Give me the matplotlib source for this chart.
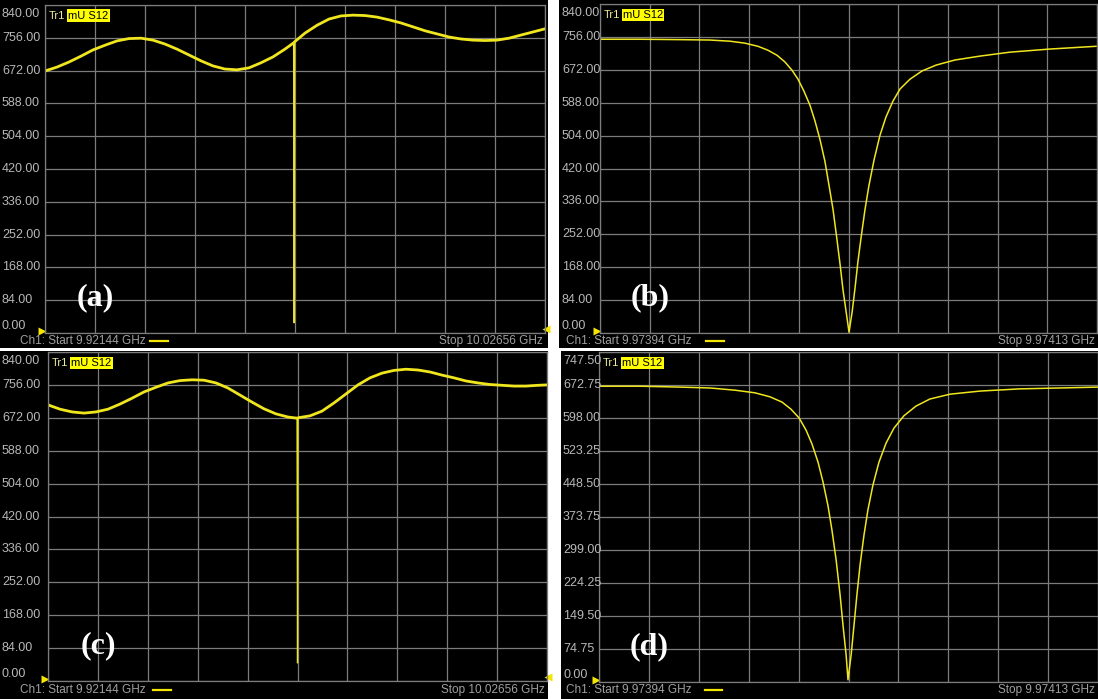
import matplotlib
matplotlib.use("Agg")
import matplotlib.pyplot as plt
from matplotlib.patches import Rectangle
import numpy as np

# trace data (frequency in MHz, |S12| in mU)
freq_a = [9921.44, 9923.96, 9926.49, 9929.01, 9931.53, 9934.05, 9936.57, 9939.10, 9941.62,
          9944.14, 9946.66, 9949.19, 9951.71, 9954.23, 9956.75, 9959.28, 9961.80, 9964.32,
          9966.84, 9969.36, 9971.89, 9973.70, 9973.82, 9973.94, 9976.10, 9978.62, 9981.15,
          9983.67, 9986.19, 9988.72, 9991.24, 9993.76, 9996.29, 9998.81, 10001.33, 10003.85,
          10006.38, 10008.90, 10011.42, 10013.95, 10016.47, 10018.99, 10021.51, 10024.04,
          10026.56]
mu_a = [671, 681, 694, 709, 725, 737, 748, 754, 755, 750, 740, 727, 712, 697, 684, 676, 674,
        679, 692, 707, 727, 743, 26, 746, 768, 788, 804, 812, 814, 813, 809, 802, 794, 784,
        774, 766, 758, 753, 750, 749, 750, 755, 763, 771, 779]

freq_b = [9973.9400, 9973.9553, 9973.9706, 9973.9821, 9973.9897, 9973.9954, 9974.0004,
          9974.0042, 9974.0077, 9974.0107, 9974.0134, 9974.0157, 9974.0180, 9974.0203,
          9974.0222, 9974.0241, 9974.0260, 9974.0275, 9974.0291, 9974.0306, 9974.0318,
          9974.0329, 9974.0341, 9974.0352, 9974.0364, 9974.0375, 9974.0386, 9974.0398,
          9974.0413, 9974.0428, 9974.0448, 9974.0470, 9974.0493, 9974.0520, 9974.0547,
          9974.0585, 9974.0631, 9974.0685, 9974.0757, 9974.0853, 9974.0967, 9974.1120,
          9974.1296]
mu_b = [750, 750, 749, 748, 745, 740, 732, 722, 709, 692, 671, 648, 617, 581, 541, 494, 438,
        379, 315, 238, 174, 110, 54, 2, 54, 115, 182, 243, 315, 376, 443, 504, 551, 592, 623,
        648, 669, 684, 697, 707, 717, 725, 732]

freq_c = [9921.44, 9923.97, 9926.50, 9929.02, 9931.55, 9934.08, 9936.61, 9939.14, 9941.66,
          9944.19, 9946.72, 9949.25, 9951.78, 9954.30, 9956.83, 9959.36, 9961.89, 9964.42,
          9966.94, 9969.47, 9972.00, 9973.90, 9974.00, 9974.10, 9976.63, 9979.16, 9981.69,
          9984.22, 9986.74, 9989.27, 9991.80, 9994.33, 9996.86, 9999.38, 10001.91, 10004.44,
          10006.97, 10009.50, 10012.02, 10014.55, 10017.08, 10019.61, 10022.14, 10024.66,
          10026.56]
mu_c = [705, 694, 687, 684, 687, 694, 707, 722, 738, 750, 761, 767, 769, 768, 761, 748, 730,
        712, 695, 682, 674, 671, 46, 672, 677, 689, 710, 733, 756, 774, 786, 793, 796, 794,
        789, 781, 774, 766, 761, 757, 755, 753, 753, 755, 756]

freq_d = [9973.9400, 9973.9556, 9973.9708, 9973.9823, 9973.9918, 9973.9994, 9974.0051,
          9974.0097, 9974.0131, 9974.0162, 9974.0188, 9974.0211, 9974.0234, 9974.0253,
          9974.0272, 9974.0287, 9974.0303, 9974.0318, 9974.0329, 9974.0341, 9974.0348,
          9974.0360, 9974.0371, 9974.0382, 9974.0394, 9974.0409, 9974.0424, 9974.0443,
          9974.0466, 9974.0493, 9974.0523, 9974.0561, 9974.0607, 9974.0660, 9974.0737,
          9974.0851, 9974.1003, 9974.1155, 9974.1300]
mu_d = [670, 670, 668, 666, 661, 655, 646, 634, 618, 598, 571, 539, 498, 453, 399, 344, 276,
        197, 129, 61, 5, 61, 129, 197, 265, 333, 390, 446, 498, 541, 575, 603, 625, 641, 652,
        659, 664, 666, 668]

panel_names = ["(a)", "(b)", "(c)", "(d)"]
start_ghz = ["9.92144", "9.97394", "9.92144", "9.97394"]
stop_ghz = ["10.02656", "9.97413", "10.02656", "9.97413"]
y_top = [840.0, 840.0, 840.0, 747.5]

W, H = 1098, 699
fig = plt.figure(figsize=(W / 100, H / 100), dpi=100, facecolor="white")


def fx(px):
    return px / W


def fy(py):
    return 1 - py / H


grid_col = "#7c7c7c"
label_col = "#b8b8b8"
trace_col = "#f0e61e"
sans = "Liberation Sans"

# panel box, plot box (pixels, top-left origin), text positions
panels = [
    dict(box=(0, 0, 548, 348), plot=(45, 5, 545, 333), lab_x=2, text_y=341, ch_x=20, dash=(150, 168), stop_x=543, lw=2.0, spike=True),
    dict(box=(559, 0, 1098, 348), plot=(600, 4, 1097, 333), lab_x=562, text_y=341, ch_x=566, dash=(706, 724), stop_x=1095, lw=1.1, spike=False),
    dict(box=(0, 351, 548, 699), plot=(48, 352, 547, 681), lab_x=2, text_y=690, ch_x=20, dash=(153, 171), stop_x=545, lw=2.0, spike=True),
    dict(box=(561, 351, 1098, 699), plot=(599, 352, 1098, 682), lab_x=563, text_y=690, ch_x=566, dash=(705, 722), stop_x=1095, lw=1.1, spike=False),
]
freqs = [freq_a, freq_b, freq_c, freq_d]
mus = [mu_a, mu_b, mu_c, mu_d]

for i, p in enumerate(panels):
    bx0, by0, bx1, by1 = p["box"]
    fig.add_artist(Rectangle((fx(bx0), fy(by1)), (bx1 - bx0) / W, (by1 - by0) / H,
                             transform=fig.transFigure, facecolor="black", edgecolor="none", zorder=0))

    x0, y0, x1, y1 = p["plot"]
    ax = fig.add_axes([fx(x0), fy(y1), (x1 - x0) / W, (y1 - y0) / H], facecolor="black")
    f_start = float(start_ghz[i]) * 1000
    f_stop = float(stop_ghz[i]) * 1000
    ax.set_xlim(f_start, f_stop)
    ax.set_ylim(0, y_top[i])
    ax.set_xticks(np.linspace(f_start, f_stop, 11))
    yt = np.linspace(0, y_top[i], 11)
    ax.set_yticks(yt)
    ax.tick_params(length=0, labelbottom=False, labelleft=False)
    ax.grid(True, color=grid_col, lw=0.9)
    for s in ax.spines.values():
        s.set_color(grid_col)
        s.set_linewidth(0.9)

    f = np.array(freqs[i])
    m = np.array(mus[i])
    if p["spike"]:
        # the narrow glitch is a one pixel line on the screen, the sweep itself is thicker
        k = int(np.argmin(m))
        ax.plot(np.delete(f, k), np.delete(m, k), color=trace_col, lw=p["lw"])
        ax.plot(f[k - 1:k + 2], m[k - 1:k + 2], color=trace_col, lw=0.9)
    else:
        ax.plot(f, m, color=trace_col, lw=p["lw"])

    # scale labels at the left edge of the screen
    for k, v in enumerate(yt):
        dy = 0
        va = "center"
        if k == len(yt) - 1:
            dy, va = -3, "top"
        elif k == 0:
            dy, va = 1, "bottom"
        ax.annotate("%.2f" % v, xy=(fx(p["lab_x"]), v), xycoords=("figure fraction", "data"),
                    xytext=(0, dy), textcoords="offset pixels", ha="left", va=va,
                    color=label_col, fontsize=9, family=sans)

    # reference markers
    ax.plot([-0.006], [0.005], marker=">", color="#f5e600", ms=6, mec="none",
            transform=ax.transAxes, clip_on=False)
    if p["spike"]:
        ax.plot([1.002], [0.012], marker="<", color="#f5e600", ms=6, mec="none",
                transform=ax.transAxes, clip_on=False)

    # trace header
    ax.text(0.008, 0.967, "Tr1", transform=ax.transAxes, color="#ecec9c",
            fontsize=8, family=sans, va="center", ha="left")
    ax.text(0.046, 0.967, "mU S12", transform=ax.transAxes, color="black",
            fontsize=8, family=sans, va="center", ha="left",
            bbox=dict(facecolor="#ffff00", edgecolor="none", pad=1.0))

    # channel footer
    fig.text(fx(p["ch_x"]), fy(p["text_y"]), "Ch1: Start %s GHz" % start_ghz[i],
             color="#a0a0a0", fontsize=8.5, family=sans, va="center", ha="left")
    fig.add_artist(plt.Line2D([fx(p["dash"][0]), fx(p["dash"][1])],
                              [fy(p["text_y"]), fy(p["text_y"])],
                              color="#f5e600", lw=1.6, transform=fig.transFigure))
    fig.text(fx(p["stop_x"]), fy(p["text_y"]), "Stop %s GHz" % stop_ghz[i],
             color="#a0a0a0", fontsize=8.5, family=sans, va="center", ha="right")

    # panel letter
    ax.text(0.1, 0.107, panel_names[i], transform=ax.transAxes, color="white",
            fontsize=23, family="Liberation Serif", fontweight="bold",
            ha="center", va="center")

fig.savefig("out.png", dpi=100, facecolor="white")
